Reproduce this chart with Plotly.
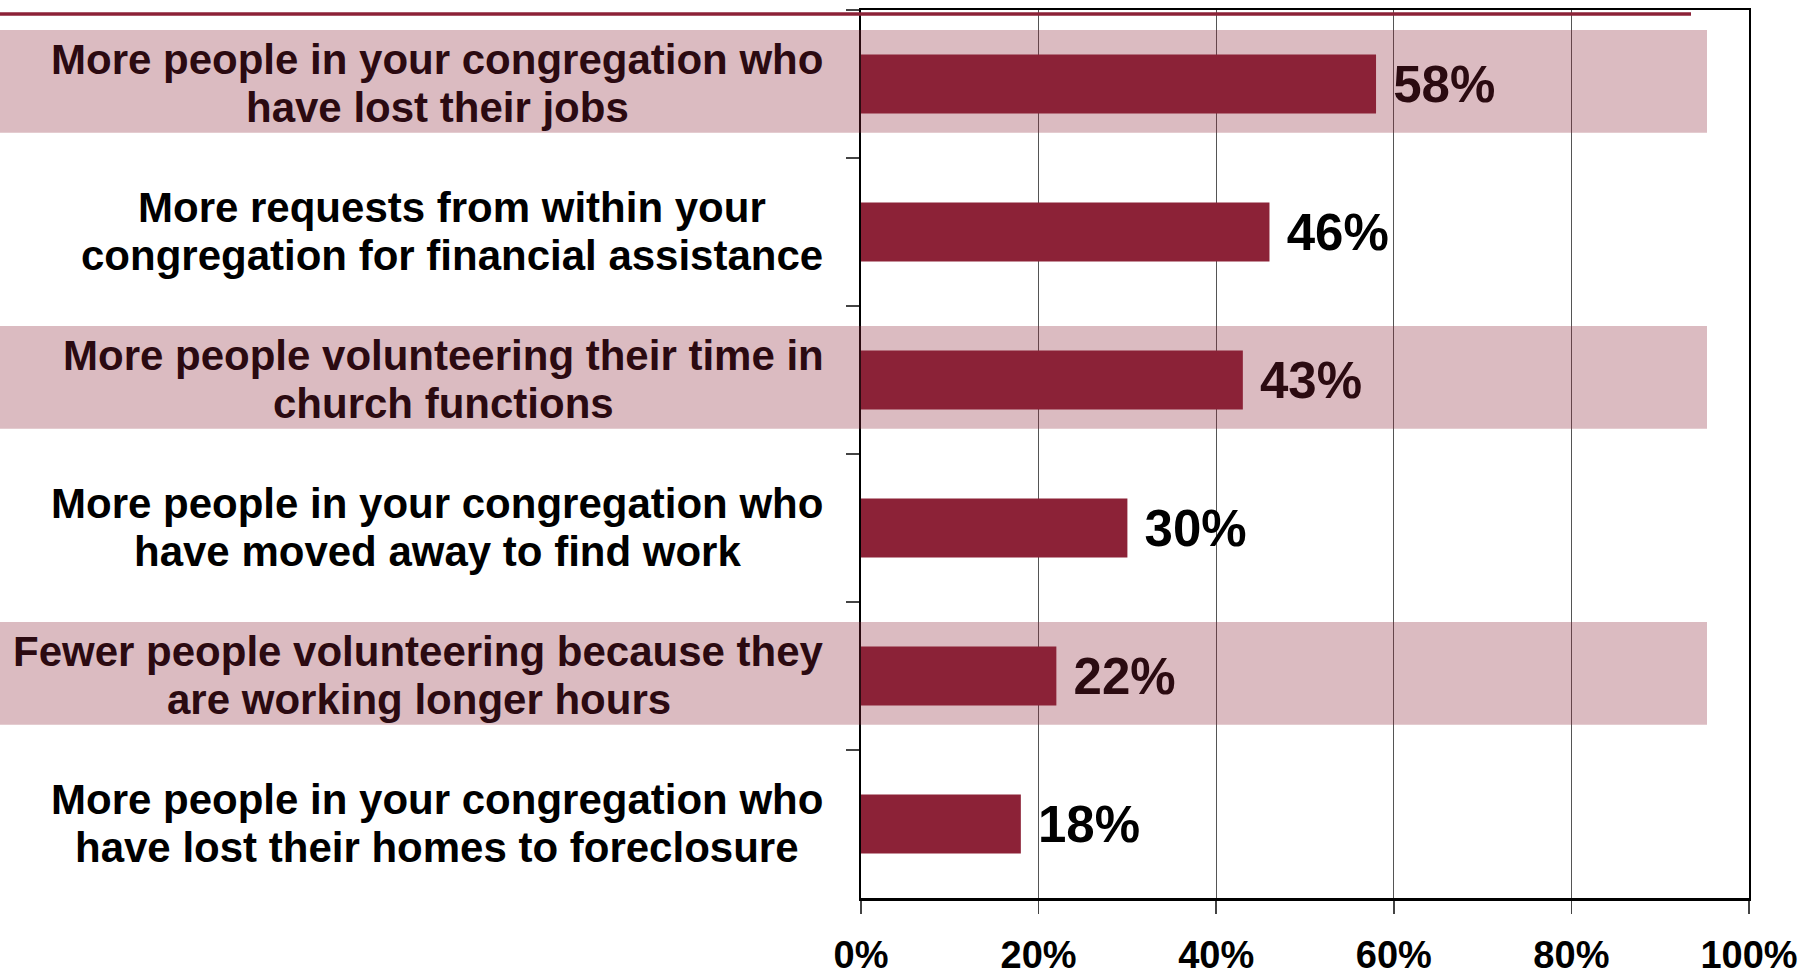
import plotly.graph_objects as go

# ---------------- data ----------------
label_lines = [
    ["More people in your congregation who", "have lost their jobs"],
    ["More requests from within your", "congregation for financial assistance"],
    ["More people volunteering their time in", "church functions"],
    ["More people in your congregation who", "have moved away to find work"],
    ["Fewer people volunteering because they", "are working longer hours"],
    ["More people in your congregation who", "have lost their homes to foreclosure"],
]
values = [58, 46, 43, 30, 22, 18]
banded_rows = [0, 2, 4]
x_tickvals = [0, 20, 40, 60, 80, 100]
x_ticktext = ["0%", "20%", "40%", "60%", "80%", "100%"]

categories = [" ".join(l) for l in label_lines]

# ---------------- style / layout constants ----------------
W, H = 1806, 977
PLOT_L, PLOT_R, PLOT_T, PLOT_B = 861, 1749, 10, 898
PLOT_W = PLOT_R - PLOT_L
BAR_COLOR = "#8C2237"
BAND_FILL = "rgba(139,34,54,0.31)"
TINT_TEXT = "#2B0A11"
FONT = "Arial, Liberation Sans, Arimo, sans-serif"
LABEL_SIZE = 42
LABEL_RIGHT_PX = 823.5
LINE_PITCH = 47.5

# Arial/Liberation Sans Bold advance widths (per 1000 em)
AW = {" ": 278, "F": 611, "M": 833,
      "a": 556, "b": 611, "c": 556, "d": 611, "e": 556, "f": 333, "g": 611,
      "h": 611, "i": 278, "j": 278, "k": 556, "l": 278, "m": 889, "n": 611,
      "o": 611, "p": 611, "q": 611, "r": 389, "s": 556, "t": 333, "u": 611,
      "v": 556, "w": 778, "x": 556, "y": 556, "z": 500}


def text_w(s, size):
    return sum(AW.get(ch, 556) for ch in s) / 1000.0 * size


def px_to_paper_x(px):
    return (px - PLOT_L) / PLOT_W


def px_to_paper_y(py):
    return (PLOT_B - py) / (PLOT_B - PLOT_T)


fig = go.Figure()
fig.add_trace(go.Bar(
    x=values, y=categories, orientation="h", width=0.4,
    marker=dict(color=BAR_COLOR, line=dict(width=0)),
    texttemplate="\u00a0%{x}%", textposition="outside",
    textfont=dict(family=FONT, size=51, color="#000000", weight="bold"),
    constraintext="none", cliponaxis=False, hoverinfo="skip",
))

shapes = []
# pink bands (translucent maroon overlay)
for r in banded_rows:
    shapes.append(dict(type="rect", xref="paper", yref="y",
                       x0=px_to_paper_x(0), x1=px_to_paper_x(1707),
                       y0=r - 0.365, y1=r + 0.33,
                       fillcolor=BAND_FILL, line=dict(width=0), layer="above"))
# decorative top rule
shapes.append(dict(type="line", xref="paper", yref="paper",
                   x0=px_to_paper_x(0), x1=px_to_paper_x(1691),
                   y0=px_to_paper_y(14), y1=px_to_paper_y(14),
                   line=dict(color=BAR_COLOR, width=3.5), layer="above"))

annotations = []
for i, lines in enumerate(label_lines):
    maxw = max(text_w(s, LABEL_SIZE) for s in lines)
    cx = LABEL_RIGHT_PX - maxw / 2
    color = TINT_TEXT if i in banded_rows else "#000000"
    n = len(lines)
    for k, s in enumerate(lines):
        shift = ((n - 1) / 2 - k) * LINE_PITCH + 0.5
        annotations.append(dict(
            text=s, xref="paper", yref="y", x=px_to_paper_x(cx), y=categories[i],
            xanchor="center", yanchor="middle", yshift=shift, showarrow=False,
            font=dict(family=FONT, size=LABEL_SIZE, color=color, weight="bold"),
        ))

fig.update_layout(
    width=W, height=H,
    margin=dict(l=PLOT_L, r=W - PLOT_R, t=PLOT_T, b=H - PLOT_B, pad=0, autoexpand=False),
    paper_bgcolor="white", plot_bgcolor="white",
    showlegend=False, hovermode=False,
    shapes=shapes, annotations=annotations,
    xaxis=dict(
        range=[0, 100], tickvals=x_tickvals, ticktext=x_ticktext,
        showgrid=True, gridcolor="#555555", gridwidth=1,
        showline=True, linecolor="#000000", linewidth=2.5, mirror=True,
        ticks="outside", ticklen=13, tickwidth=1.5, tickcolor="#444444",
        tickfont=dict(family=FONT, size=38, color="#000000", weight="bold"),
        ticklabelstandoff=9, zeroline=False, automargin=False,
    ),
    yaxis=dict(
        categoryorder="array", categoryarray=categories,
        range=[5.5, -0.5], tickson="boundaries", showticklabels=False,
        showgrid=False, showline=True, linecolor="#000000", linewidth=2,
        mirror=True, ticks="outside", ticklen=13, tickwidth=1.5,
        tickcolor="#444444", zeroline=False, automargin=False,
    ),
)

# remove the default 8px page margin so the 1806x977 figure fills the window exactly
fig.write_html("out.html",
               config={"displayModeBar": False, "staticPlot": True},
               post_script="document.body.style.margin='0';document.body.style.overflow='hidden';")
